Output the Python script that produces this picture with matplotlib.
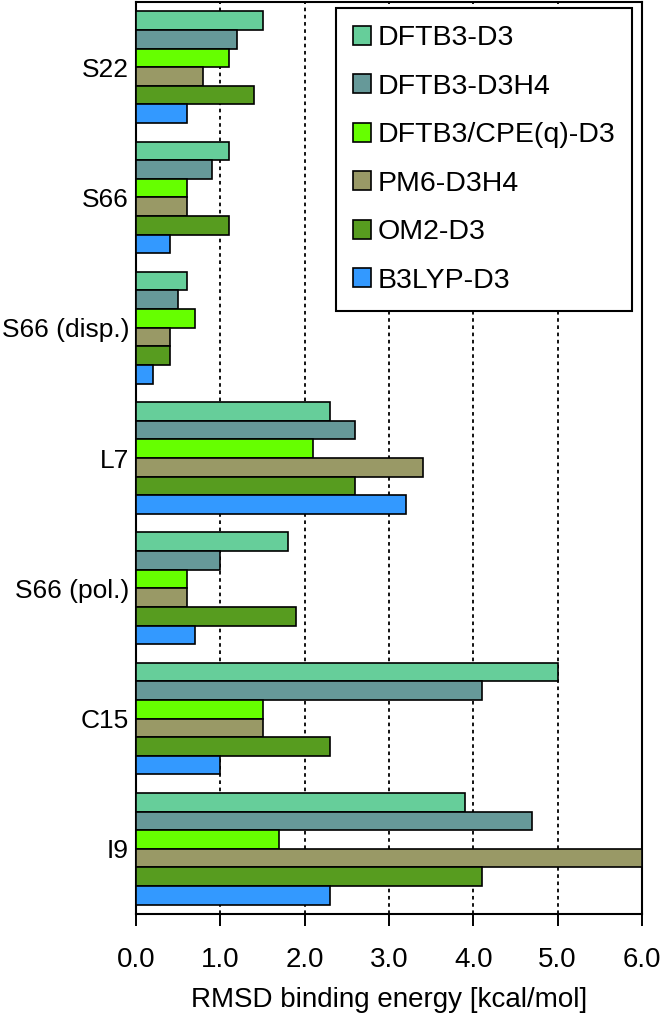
import matplotlib
matplotlib.use('Agg')
import matplotlib.pyplot as plt
import numpy as np

plt.rcParams['font.family'] = ['Liberation Sans', 'DejaVu Sans']

# 数据
groups = ['S22', 'S66', 'S66 (disp.)', 'L7', 'S66 (pol.)', 'C15', 'I9']
methods = ['DFTB3-D3', 'DFTB3-D3H4', 'DFTB3/CPE(q)-D3', 'PM6-D3H4', 'OM2-D3', 'B3LYP-D3']
dftb3_d3 = [1.5, 1.1, 0.6, 2.3, 1.8, 5.0, 3.9]
dftb3_d3h4 = [1.2, 0.9, 0.5, 2.6, 1.0, 4.1, 4.7]
dftb3_cpe = [1.1, 0.6, 0.7, 2.1, 0.6, 1.5, 1.7]
pm6_d3h4 = [0.8, 0.6, 0.4, 3.4, 0.6, 1.5, 6.0]
om2_d3 = [1.4, 1.1, 0.4, 2.6, 1.9, 2.3, 4.1]
b3lyp_d3 = [0.6, 0.4, 0.2, 3.2, 0.7, 1.0, 2.3]
colors = ['#66CE9A', '#669999', '#66FF00', '#999966', '#579C1F', '#3399FF']

series = [dftb3_d3, dftb3_d3h4, dftb3_cpe, pm6_d3h4, om2_d3, b3lyp_d3]

fig = plt.figure(figsize=(6.63, 10.14), dpi=100)
ax = fig.add_axes([136/663, 1-914/1014, 506/663, 912/1014])

y = np.arange(len(groups))
h = 1.0/7
for j in range(len(series)):
    ax.barh(y + (j-2.5)*h, series[j], height=h, color=colors[j],
            edgecolor='black', linewidth=1.2, label=methods[j], zorder=3)

ax.set_xlim(0, 6)
ax.set_ylim(6.5, -0.5)
ax.set_xticks(np.arange(0, 7, 1))
ax.set_xticklabels(['%.1f' % v for v in np.arange(0, 7, 1)])
ax.set_yticks(y)
ax.set_yticklabels(groups)
ax.tick_params(axis='x', direction='out', length=8.5, width=1.4, pad=15, labelsize=20)
ax.tick_params(axis='y', length=0, pad=5, labelsize=19)
ax.xaxis.grid(True, linestyle=(0, (2, 2)), color='black', linewidth=1.3)
ax.set_axisbelow(True)
for s in ax.spines.values():
    s.set_linewidth(1.5)

ax.set_xlabel('RMSD binding energy [kcal/mol]', fontsize=20, labelpad=10)

leg = ax.legend(loc='upper right', bbox_to_anchor=(632/663, 1006/1014), bbox_transform=fig.transFigure,
                fontsize=20.5, handlelength=0.65, handleheight=0.65, handletextpad=0.2,
                labelspacing=0.79, borderpad=0.6, fancybox=False, framealpha=1, borderaxespad=0)
leg.get_frame().set_edgecolor('black')
leg.get_frame().set_linewidth(1.5)

fig.savefig('out.png', dpi=100)
